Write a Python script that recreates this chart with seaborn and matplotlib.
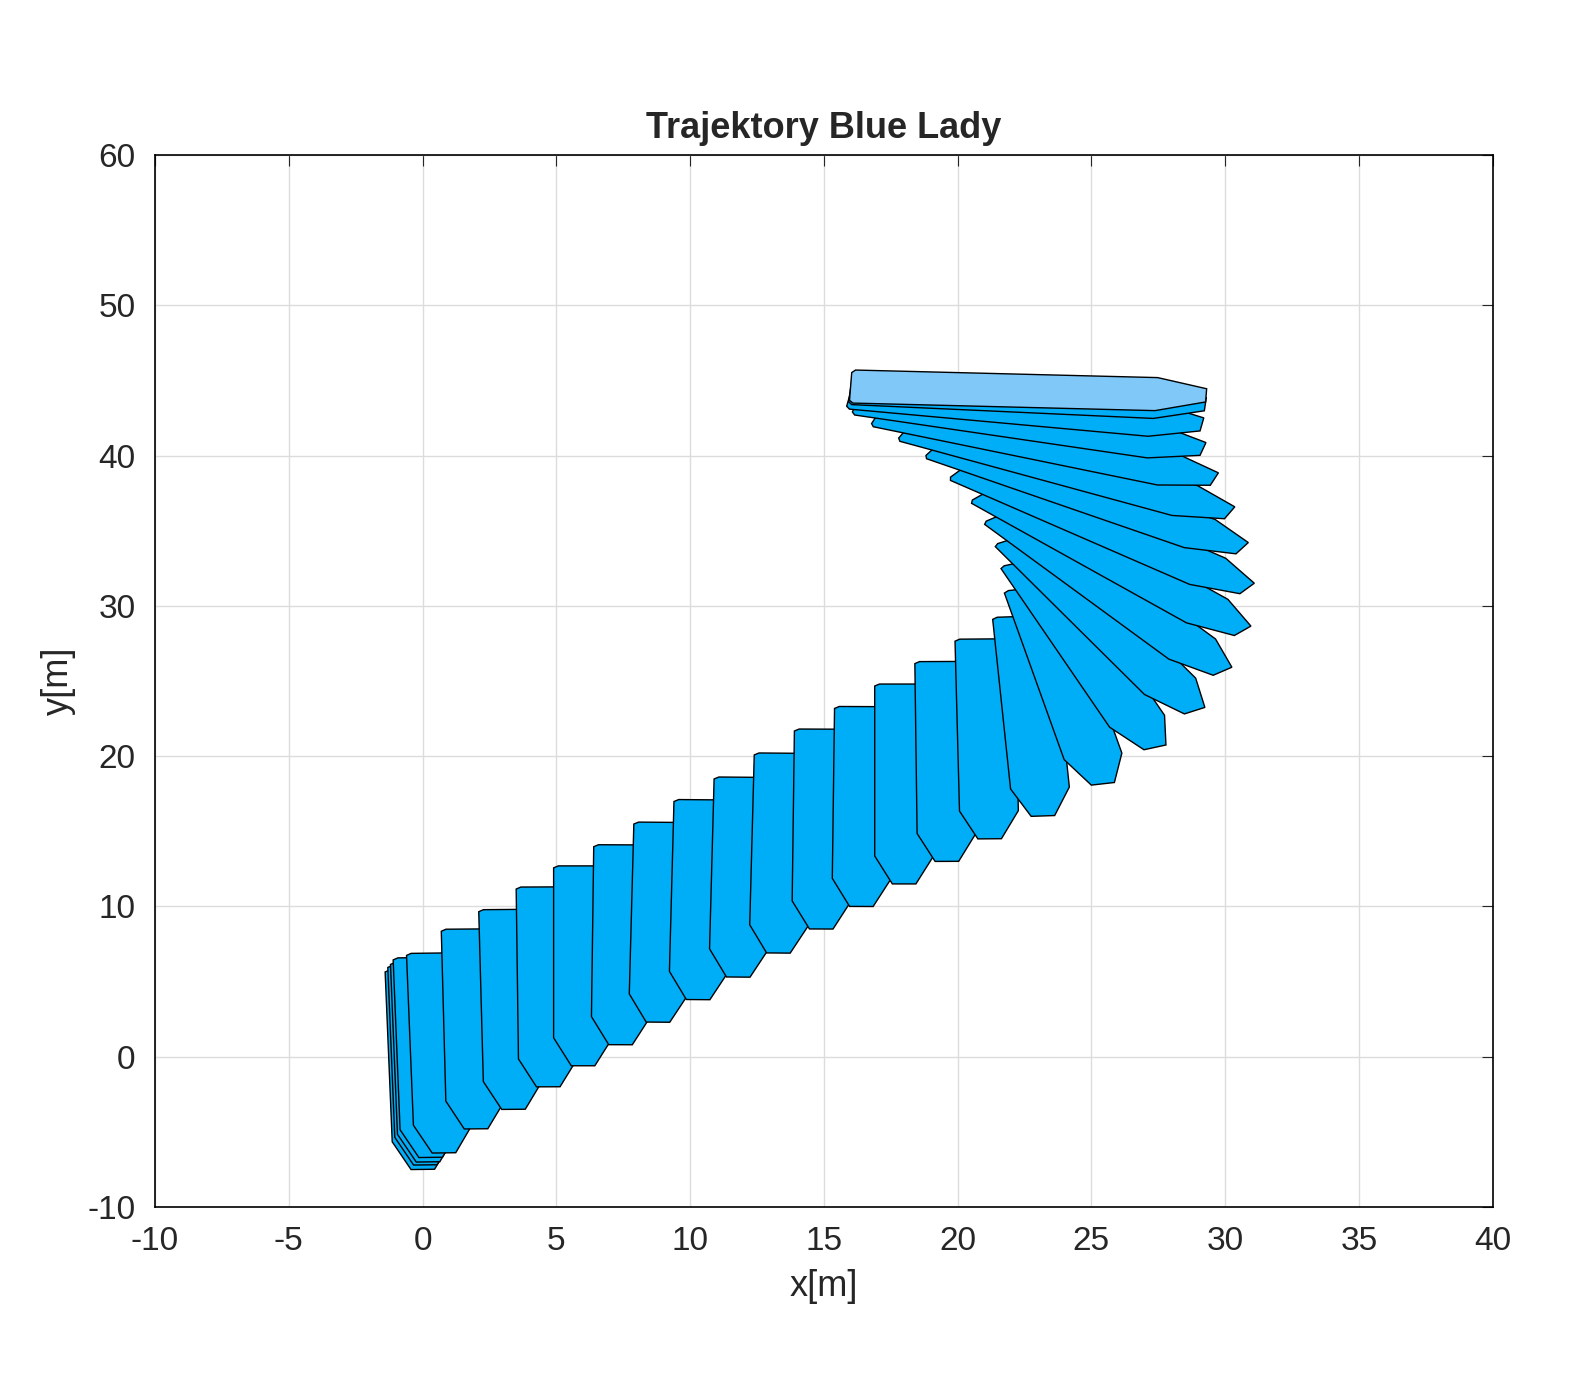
import numpy as np
import matplotlib
matplotlib.use("Agg")
import matplotlib.pyplot as plt
import seaborn as sns

sns.set_style("whitegrid")
plt.rcParams['font.family'] = ['Arial', 'Liberation Sans', 'DejaVu Sans']
plt.rcParams['axes.unicode_minus'] = False

# ship poses: flat-end centre (top) and a point toward pointed end (bottom)
top_x = [-0.3, -0.2, -0.1, 0.0, 0.5, 1.8, 3.2, 4.6, 6.0, 7.5, 9.0, 10.5, 12.0, 13.5, 15.0,
         16.5, 18.0, 19.5, 21.0, 22.4, 22.8, 22.6, 22.3, 21.8, 21.2, 20.3, 19.3, 18.2, 17.1, 16.3, 16.0, 16.0, 16.0]
top_y = [5.8, 6.1, 6.3, 6.6, 6.9, 8.5, 9.8, 11.3, 12.7, 14.1, 15.6, 17.1, 18.6, 20.2, 21.8,
         23.3, 24.8, 26.3, 27.8, 29.3, 31.2, 33.0, 34.6, 36.2, 37.7, 39.3, 40.8, 42.0, 43.0, 43.8, 44.2, 44.5, 44.6]
bot_x = [0.0, 0.1, 0.2, 0.3, 0.8, 2.0, 3.4, 4.7, 6.0, 7.4, 8.8, 10.3, 11.8, 13.3, 14.9,
         16.4, 18.0, 19.6, 21.2, 23.2, 25.5, 27.6, 29.1, 30.4, 31.3, 31.8, 32.0, 31.6, 30.8, 30.1, 29.6, 29.5, 29.5]
bot_y = [-7.0, -6.9, -6.7, -6.5, -6.3, -4.8, -3.4, -2.0, -0.6, 0.8, 2.3, 3.8, 5.3, 6.8, 8.3,
         9.8, 11.3, 12.8, 14.3, 15.8, 17.8, 20.0, 22.6, 25.0, 27.7, 30.4, 33.0, 35.5, 38.0, 40.2, 42.0, 43.4, 44.0]

ship_len = 13.3
beam = 2.2
# local hull outline: u along axis (0 flat end -> 1 pointed end), v across (fraction of beam)
hull_u = [0.0, 0.01, 0.86, 1.0, 1.0, 0.86, 0.01, 0.0]
hull_v = [-0.42, -0.5, -0.5, -0.2, 0.2, 0.5, 0.5, 0.42]

fig = plt.figure(figsize=(15.73, 13.93), dpi=100)
ax = fig.add_axes([0.0985, 0.1335, 0.8505, 0.7552])

n = len(top_x)
for i in range(n):
    tx, ty = top_x[i], top_y[i]
    d = np.array([bot_x[i] - tx, bot_y[i] - ty])
    d = d / np.linalg.norm(d)
    p = np.array([-d[1], d[0]])
    u = np.array(hull_u) * ship_len
    v = np.array(hull_v) * beam
    xs = tx + u * d[0] + v * p[0]
    ys = ty + u * d[1] + v * p[1]
    col = '#80C8F8' if i == n - 1 else '#00AEF8'
    ax.fill(xs, ys, facecolor=col, edgecolor='black', linewidth=1.0, zorder=3 + i)

ax.set_xlim(-10, 40)
ax.set_ylim(-10, 60)
ax.set_xticks(np.arange(-10, 41, 5))
ax.set_yticks(np.arange(-10, 61, 10))
ax.tick_params(labelsize=24, direction='in', length=8, pad=14, top=True, right=True, colors='#262626')
ax.grid(True, color='#DCDCDC', linewidth=1)
for s in ax.spines.values():
    s.set_color('black'); s.set_linewidth(1.2); s.set_visible(True)
ax.set_xlabel('x[m]', fontsize=26, color='#262626', labelpad=8)
ax.set_ylabel('y[m]', fontsize=26, color='#262626', labelpad=8)
ax.set_title('Trajektory Blue Lady', fontsize=26, fontweight='bold', pad=12)
fig.savefig('out.png', dpi=100, facecolor='white')
